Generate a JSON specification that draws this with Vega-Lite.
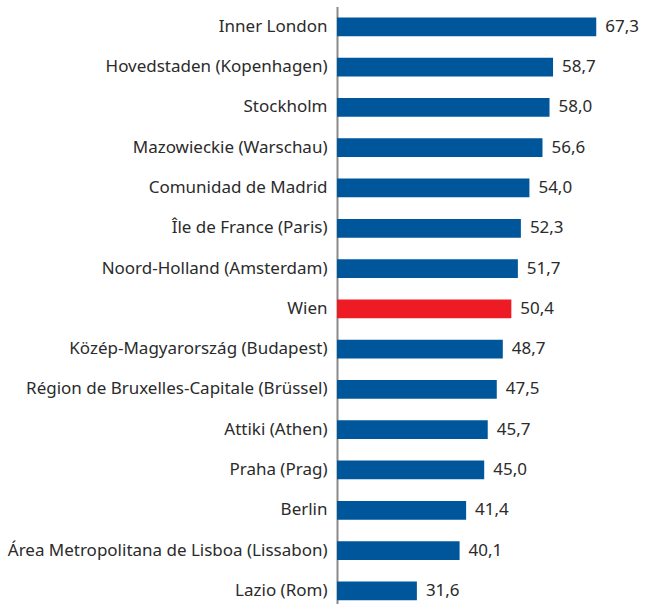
{
  "$schema": "https://vega.github.io/schema/vega-lite/v6.json",
  "autosize": "none",
  "width": 310,
  "height": 604.5,
  "padding": {"left": 337, "top": 6.6, "right": 0, "bottom": 0},
  "background": "white",
  "config": {
    "view": {"stroke": null},
    "locale": {"number": {"decimal": ",", "thousands": ".", "grouping": [3], "currency": ["", " €"]}},
    "font": "Noto Sans"
  },
  "data": {
    "values": [
      {"region": "Inner London", "value": 67.3, "highlight": "no"},
      {"region": "Hovedstaden (Kopenhagen)", "value": 58.7, "highlight": "no"},
      {"region": "Stockholm", "value": 58.0, "highlight": "no"},
      {"region": "Mazowieckie (Warschau)", "value": 56.6, "highlight": "no"},
      {"region": "Comunidad de Madrid", "value": 54.0, "highlight": "no"},
      {"region": "Île de France (Paris)", "value": 52.3, "highlight": "no"},
      {"region": "Noord-Holland (Amsterdam)", "value": 51.7, "highlight": "no"},
      {"region": "Wien", "value": 50.4, "highlight": "yes"},
      {"region": "Közép-Magyarország (Budapest)", "value": 48.7, "highlight": "no"},
      {"region": "Région de Bruxelles-Capitale (Brüssel)", "value": 47.5, "highlight": "no"},
      {"region": "Attiki (Athen)", "value": 45.7, "highlight": "no"},
      {"region": "Praha (Prag)", "value": 45.0, "highlight": "no"},
      {"region": "Berlin", "value": 41.4, "highlight": "no"},
      {"region": "Área Metropolitana de Lisboa (Lissabon)", "value": 40.1, "highlight": "no"},
      {"region": "Lazio (Rom)", "value": 31.6, "highlight": "no"}
    ]
  },
  "encoding": {
    "y": {
      "field": "region",
      "type": "nominal",
      "sort": null,
      "scale": {"paddingInner": 0.535, "paddingOuter": 0.27},
      "axis": {
        "title": null,
        "ticks": false,
        "labelPadding": 10,
        "labelFontSize": 17,
        "labelColor": "#2b2b2b",
        "labelFont": "Noto Sans",
        "labelLimit": 400,
        "domainColor": "#8a8a8a",
        "domainWidth": 2
      }
    }
  },
  "layer": [
    {
      "mark": {"type": "bar"},
      "encoding": {
        "x": {
          "field": "value",
          "type": "quantitative",
          "scale": {"domain": [15.7, 77.4], "zero": false, "nice": false},
          "axis": null
        },
        "x2": {"datum": 15.7},
        "color": {
          "field": "highlight",
          "type": "nominal",
          "scale": {"domain": ["no", "yes"], "range": ["#00569b", "#ed1c24"]},
          "legend": null
        }
      }
    },
    {
      "mark": {"type": "text", "align": "left", "baseline": "middle", "dx": 9, "fontSize": 17, "color": "#2b2b2b"},
      "encoding": {
        "x": {"field": "value", "type": "quantitative"},
        "text": {"field": "value", "type": "quantitative", "format": ".1f"}
      }
    }
  ]
}
